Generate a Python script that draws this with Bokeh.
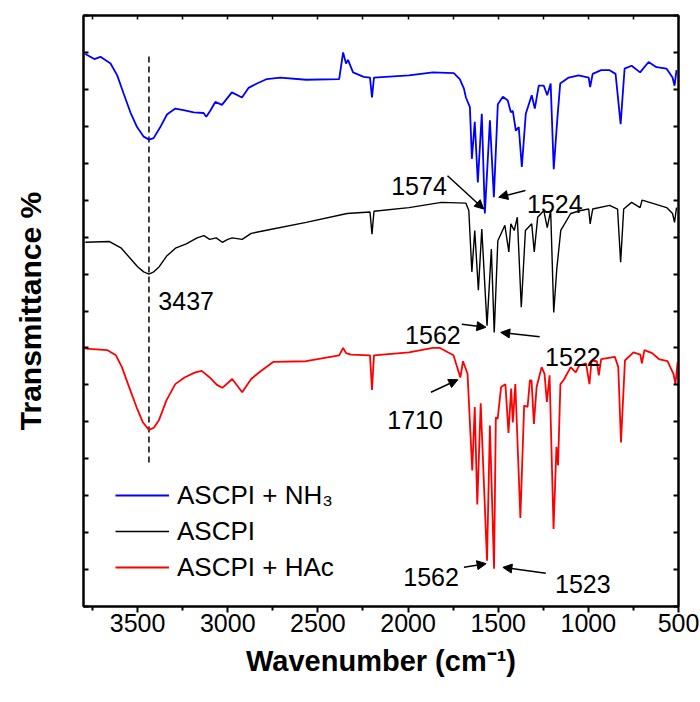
from bokeh.plotting import figure
from bokeh.models import (Range1d, FixedTicker, LinearAxis, Legend, LegendItem,
                          Label, Arrow, NormalHead, CustomJSTickFormatter)
from bokeh.embed import file_html
from bokeh.resources import INLINE

# ---------------- data ----------------
blue_wn = [3790, 3740, 3706, 3650, 3613, 3577, 3540, 3503, 3466, 3437, 3411, 3374, 3337, 3291, 3245,
           3189, 3134, 3119, 3097, 3069, 3032, 2977, 2921, 2885, 2838, 2783, 2709, 2565, 2382, 2360,
           2344, 2333, 2305, 2246, 2211, 2200, 2189, 1995, 1862, 1746, 1713, 1690, 1679, 1657, 1646,
           1630, 1613, 1591, 1574, 1546, 1524, 1502, 1474, 1447, 1430, 1419, 1402, 1386, 1369, 1347,
           1314, 1297, 1275, 1247, 1228, 1209, 1192, 1172, 1156, 1109, 1054, 998, 990, 976, 929,
           882, 849, 821, 799, 760, 713, 666, 622, 566, 533, 522, 511]
blue_T = [74.8, 74.1, 74.4, 73.5, 71.9, 69.4, 66.9, 64.9, 63.6, 63.2, 63.4, 64.9, 66.6, 67.4, 67.2,
          66.9, 66.8, 66.3, 67.1, 68.3, 67.9, 69.6, 68.9, 70.2, 70.8, 71.4, 71.6, 71.3, 71.4, 75.0,
          73.5, 74.0, 72.3, 71.7, 71.6, 68.9, 71.6, 71.9, 72.3, 72.2, 71.4, 70.1, 68.9, 67.6, 60.6,
          65.6, 57.4, 66.7, 53.2, 65.8, 55.4, 68.0, 69.0, 68.5, 66.9, 67.1, 64.4, 64.9, 59.5, 66.7,
          69.2, 67.4, 70.5, 70.5, 69.2, 70.8, 59.2, 66.0, 70.8, 71.6, 71.9, 71.6, 70.3, 72.1, 72.6,
          72.6, 72.1, 65.3, 72.8, 73.2, 72.3, 73.7, 73.0, 72.8, 71.6, 70.5, 72.6]

black_wn = [3790, 3656, 3590, 3540, 3500, 3466, 3437, 3410, 3380, 3340, 3290, 3230, 3170, 3132, 3100,
            3064, 3030, 3000, 2975, 2920, 2870, 2792, 2565, 2338, 2211, 2200, 2189, 1995, 1815, 1679,
            1663, 1646, 1630, 1610, 1591, 1562, 1538, 1522, 1502, 1463, 1441, 1430, 1411, 1394, 1372,
            1349, 1314, 1300, 1281, 1247, 1228, 1209, 1192, 1175, 1153, 1098, 1043, 998, 990, 976,
            882, 838, 821, 804, 760, 713, 702, 633, 566, 533, 522, 511]
black_T = [49.3, 49.4, 48.5, 47.1, 46.0, 45.3, 45.0, 45.3, 46.0, 47.4, 48.5, 49.1, 49.9, 50.2, 49.7,
           49.9, 49.3, 49.7, 49.9, 49.7, 50.5, 50.9, 52.0, 53.2, 53.4, 50.4, 53.5, 54.0, 54.7, 54.6,
           53.6, 45.3, 50.9, 42.8, 51.1, 38.0, 48.4, 37.1, 49.5, 51.6, 48.0, 51.8, 50.9, 52.7, 40.5,
           50.9, 51.8, 48.0, 52.7, 53.6, 51.3, 53.6, 39.8, 45.7, 50.9, 53.2, 53.6, 53.8, 51.8, 53.8,
           54.3, 53.8, 46.6, 53.8, 54.7, 54.0, 55.0, 54.5, 54.0, 53.2, 52.0, 54.0]

red_wn = [3790, 3667, 3620, 3587, 3550, 3506, 3470, 3437, 3410, 3382, 3340, 3291, 3240, 3180, 3144,
          3100, 3060, 3030, 2975, 2920, 2870, 2825, 2748, 2565, 2382, 2360, 2344, 2316, 2211, 2200,
          2189, 1995, 1862, 1823, 1748, 1710, 1695, 1670, 1644, 1630, 1616, 1597, 1562, 1546, 1523,
          1513, 1503, 1484, 1460, 1443, 1428, 1419, 1405, 1377, 1356, 1337, 1324, 1315, 1302, 1287,
          1259, 1243, 1230, 1215, 1193, 1177, 1168, 1155, 1136, 1098, 1070, 1051, 1013, 994, 982,
          953, 942, 929, 853, 834, 819, 797, 750, 712, 703, 689, 646, 609, 561, 528, 517, 505]
red_T = [34.9, 34.7, 34.0, 32.4, 29.9, 27.0, 24.9, 23.9, 24.2, 25.2, 27.9, 30.1, 31.0, 31.7, 31.9,
         31.0, 30.0, 29.6, 30.8, 29.0, 30.8, 31.7, 33.1, 33.2, 34.0, 35.0, 34.3, 34.1, 34.0, 29.3,
         34.0, 34.4, 35.0, 35.0, 34.0, 31.0, 33.2, 31.5, 18.4, 27.0, 13.8, 27.5, 6.2, 24.5, 5.1,
         25.6, 25.4, 29.7, 30.1, 23.5, 29.5, 24.9, 30.1, 12.0, 27.2, 27.0, 30.6, 30.6, 24.7, 29.7,
         32.4, 31.5, 27.7, 31.3, 10.5, 21.6, 19.1, 30.1, 30.7, 32.4, 31.7, 32.6, 32.9, 30.1, 33.3,
         33.2, 31.3, 33.5, 33.8, 32.4, 22.2, 33.3, 34.4, 34.1, 32.9, 34.7, 34.3, 33.5, 33.2, 31.5,
         30.1, 33.1]

series_names = ["ASCPI + NH\u2083", "ASCPI", "ASCPI + HAc"]

x_ticks = [3500, 3000, 2500, 2000, 1500, 1000, 500]
x_tick_labels = ["3500", "3000", "2500", "2000", "1500", "1000", "500"]
x_minor = [3750, 3250, 2750, 2250, 1750, 1250, 750]
y_ticks = list(range(0, 81, 5))

dash_wn = [3437]
dash_lo = [19.5]
dash_hi = [75.0]

# ---------------- figure ----------------
FONT = "Liberation Sans"
p = figure(width=700, height=702, x_range=Range1d(3800, 500), y_range=Range1d(0, 80),
           output_backend="svg", toolbar_location=None,
           min_border_left=83, min_border_right=22, min_border_top=15, min_border_bottom=96)
p.xgrid.visible = False
p.ygrid.visible = False
p.outline_line_color = "black"
p.outline_line_width = 2
p.background_fill_color = "white"
p.border_fill_color = "white"

xt = FixedTicker(ticks=x_ticks, minor_ticks=x_minor)
yt = FixedTicker(ticks=y_ticks, minor_ticks=[])
empty = CustomJSTickFormatter(code="return ''")

xa = p.xaxis[0]
xa.ticker = xt
xa.major_label_overrides = {t: s for t, s in zip(x_ticks, x_tick_labels)}
xa.major_tick_in = 0
xa.major_tick_out = 6
xa.minor_tick_in = 0
xa.minor_tick_out = 4
xa.major_tick_line_width = 2
xa.minor_tick_line_width = 2
xa.axis_line_width = 2
xa.major_label_standoff = 1
xa.major_label_text_font = FONT
xa.major_label_text_font_size = "25px"
xa.major_label_text_color = "black"
xa.axis_label = "Wavenumber (cm\u207b\u00b9)"
xa.axis_label_text_font = FONT
xa.axis_label_text_font_size = "29px"
xa.axis_label_text_font_style = "bold"
xa.axis_label_text_color = "black"
xa.axis_label_standoff = 10

ya = p.yaxis[0]
ya.ticker = yt
ya.formatter = empty
ya.major_label_text_font_size = "0px"
ya.major_label_standoff = 0
ya.major_tick_in = 5
ya.major_tick_out = 0
ya.minor_tick_in = 0
ya.minor_tick_out = 0
ya.major_tick_line_width = 2
ya.axis_line_width = 2
ya.axis_label = "Transmittance %"
ya.axis_label_text_font = FONT
ya.axis_label_text_font_size = "30px"
ya.axis_label_text_font_style = "bold"
ya.axis_label_text_color = "black"
ya.axis_label_standoff = 37

top = LinearAxis(ticker=xt, formatter=empty, major_label_text_font_size="0px",
                 major_label_standoff=0, major_tick_in=4, major_tick_out=0,
                 minor_tick_in=4, minor_tick_out=0, major_tick_line_width=1.5,
                 minor_tick_line_width=1.5, axis_line_width=2)
p.add_layout(top, "above")
right = LinearAxis(ticker=yt, formatter=empty, major_label_text_font_size="0px",
                   major_label_standoff=0, major_tick_in=5, major_tick_out=0,
                   minor_tick_in=0, minor_tick_out=0, major_tick_line_width=2,
                   axis_line_width=2)
p.add_layout(right, "right")

# dashed guide at 3437
p.segment(x0=dash_wn, y0=dash_lo, x1=dash_wn, y1=dash_hi, line_color="black",
          line_width=1.5, line_dash="6 4")

r_blue = p.line(blue_wn, blue_T, line_color="#0000ff", line_width=1.8)
r_black = p.line(black_wn, black_T, line_color="#000000", line_width=1.4)
r_red = p.line(red_wn, red_T, line_color="#ff0000", line_width=1.8)

legend = Legend(items=[LegendItem(label=series_names[0], renderers=[r_blue]),
                       LegendItem(label=series_names[1], renderers=[r_black]),
                       LegendItem(label=series_names[2], renderers=[r_red])],
                location=(32, 21), orientation="vertical",
                label_text_font=FONT, label_text_font_size="26px", label_text_color="black",
                glyph_width=54, glyph_height=36, label_height=36, label_standoff=8,
                spacing=0, padding=0, margin=0,
                border_line_color=None, background_fill_alpha=0)
p.add_layout(legend)

# annotations: (text, x, y, align), arrows: (xs, ys, xe, ye)
labels = [("3437", 3385, 41.4, "left"),
          ("1574", 1785, 56.9, "right"),
          ("1524", 1340, 54.5, "left"),
          ("1562", 1708, 36.8, "right"),
          ("1522", 1240, 33.8, "left"),
          ("1710", 2115, 25.2, "left"),
          ("1562", 1718, 4.0, "right"),
          ("1523", 1185, 3.1, "left")]
for t, x, y, a in labels:
    p.add_layout(Label(x=x, y=y, text=t, text_align=a, text_baseline="alphabetic",
                       text_font=FONT, text_font_size="25px", text_color="black"))

arrows = [(1781, 58.3, 1580, 53.8),
          (1349, 56.3, 1497, 55.4),
          (1702, 38.2, 1568, 37.8),
          (1270, 36.5, 1486, 37.1),
          (1873, 29.0, 1724, 30.7),
          (1690, 5.3, 1567, 5.8),
          (1236, 4.5, 1474, 5.3)]
for xs, ys, xe, ye in arrows:
    p.add_layout(Arrow(x_start=xs, y_start=ys, x_end=xe, y_end=ye, line_width=1.5,
                       line_color="black",
                       end=NormalHead(size=9, line_color="black", fill_color="black")))

open("out.html", "w").write(file_html(p, INLINE))
